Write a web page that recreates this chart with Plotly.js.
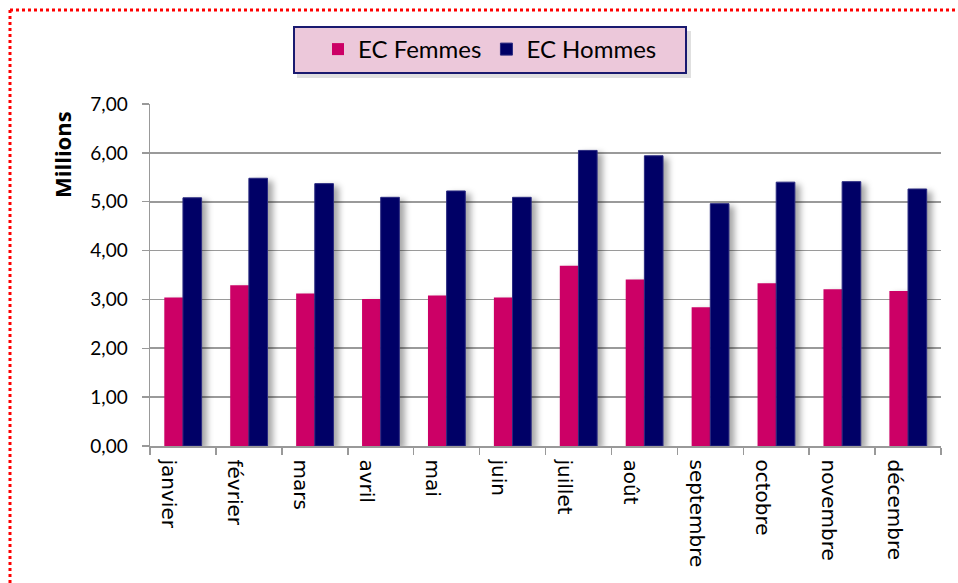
<!DOCTYPE html>
<html>
<head>
<meta charset="utf-8">
<script src="https://cdn.plot.ly/plotly-3.0.1.min.js"></script>
<style>
  html, body { margin: 0; padding: 0; background: #fff; }
  #chart { width: 958px; height: 583px; }
  .barlayer .point path { filter: drop-shadow(5px 3px 3px rgba(0,0,0,0.35)); }
</style>
</head>
<body>
<div id="chart"></div>
<script>
const months = ["janvier", "février", "mars", "avril", "mai", "juin", "juillet", "août", "septembre", "octobre", "novembre", "décembre"];
const femmes = [3.04, 3.29, 3.12, 3.01, 3.08, 3.04, 3.69, 3.41, 2.84, 3.33, 3.21, 3.17];
const hommes = [5.08, 5.48, 5.37, 5.09, 5.22, 5.09, 6.05, 5.94, 4.96, 5.40, 5.41, 5.26];
const seriesNames = ["EC Femmes", "EC Hommes"];
const yTicks = [0, 1, 2, 3, 4, 5, 6, 7];

const W = 958, H = 583;
const L = 150, R = 17, T = 104, B = 137;
const pw = W - L - R, ph = H - T - B;
const px = x => (x - L) / pw;
const py = y => (H - B - y) / ph;

const traces = [
  { type: "bar", name: seriesNames[0], x: months, y: femmes,
    marker: { color: "#CC0066", line: { width: 0 } } },
  { type: "bar", name: seriesNames[1], x: months, y: hommes,
    marker: { color: "#000066", line: { width: 1, color: "#2a2a80" } } }
];

const layout = {
  width: W, height: H,
  margin: { l: L, r: R, t: T, b: B, pad: 0 },
  paper_bgcolor: "#ffffff",
  plot_bgcolor: "#ffffff",
  separators: ", ",
  barmode: "group",
  bargap: 0.434,
  bargroupgap: 0,
  showlegend: true,
  legend: {
    orientation: "h",
    x: px(490), xanchor: "center",
    y: py(49.5), yanchor: "middle",
    bgcolor: "rgba(0,0,0,0)",
    borderwidth: 0,
    font: { family: "Lato, 'Open Sans', sans-serif", size: 24, color: "#000" },
    itemwidth: 30,
    traceorder: "normal"
  },
  xaxis: {
    type: "category",
    tickangle: 90,
    tickson: "boundaries",
    ticks: "outside",
    ticklen: 7,
    tickcolor: "#999",
    tickwidth: 1.5,
    showline: true,
    linecolor: "#999",
    linewidth: 1.5,
    showgrid: false,
    ticklabelstandoff: 8,
    ticklabelshift: -14,
    tickfont: { family: "'DejaVu Sans', sans-serif", size: 20, color: "#000" },
    fixedrange: true
  },
  yaxis: {
    range: [0, 7],
    tickvals: yTicks,
    tickformat: ".2f",
    ticks: "outside",
    ticklen: 7,
    tickcolor: "#999",
    tickwidth: 1.5,
    showline: true,
    linecolor: "#999",
    linewidth: 1.5,
    showgrid: true,
    gridcolor: "#9a9a9a",
    gridwidth: 1.8,
    zeroline: false,
    ticklabelstandoff: 10,
    tickfont: { family: "Lato, 'Open Sans', sans-serif", size: 19, color: "#000" },
    fixedrange: true
  },
  annotations: [
    { text: "<b>Millions</b>", xref: "paper", yref: "paper",
      x: px(62), y: py(155), xanchor: "center", yanchor: "middle",
      textangle: -90, showarrow: false,
      font: { family: "'Open Sans', 'Liberation Sans', sans-serif", size: 22, color: "#000" } }
  ],
  shapes: [
    { type: "rect", xref: "paper", yref: "paper", layer: "below",
      x0: px(297), x1: px(691), y0: py(31), y1: py(78),
      fillcolor: "rgba(0,0,0,0.12)", line: { width: 0 } },
    { type: "rect", xref: "paper", yref: "paper", layer: "below",
      x0: px(294), x1: px(686), y0: py(27), y1: py(73),
      fillcolor: "#ecc8da", line: { color: "#1a1a70", width: 2 } },
    { type: "line", xref: "paper", yref: "paper", layer: "above",
      x0: px(10), x1: px(960), y0: py(10), y1: py(10),
      line: { color: "#ff0000", width: 3, dash: "dot" } },
    { type: "line", xref: "paper", yref: "paper", layer: "above",
      x0: px(10), x1: px(10), y0: py(10), y1: py(590),
      line: { color: "#ff0000", width: 3, dash: "dot" } }
  ]
};

Plotly.newPlot("chart", traces, layout, { displayModeBar: false, staticPlot: true });
</script>
</body>
</html>
